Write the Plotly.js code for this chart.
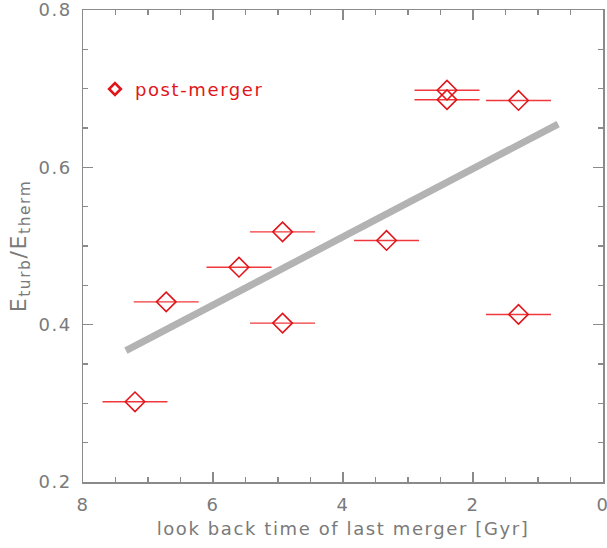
<!DOCTYPE html>
<html>
<head>
<meta charset="utf-8">
<script src="https://cdn.plot.ly/plotly-3.0.1.min.js"></script>
<style>
  html, body { margin: 0; padding: 0; background: #ffffff; }
  #chart { width: 607px; height: 548px; }
  svg text { letter-spacing: 1.6px; }
</style>
</head>
<body>
<div id="chart"></div>
<script>
// Data
const lookback = [7.2, 6.72, 5.6, 4.93, 4.93, 3.33, 2.4, 2.4, 1.3, 1.3];   // Gyr
const ratio    = [0.302, 0.429, 0.473, 0.518, 0.402, 0.507, 0.698, 0.686, 0.685, 0.413];
const lookbackErr = [0.5, 0.5, 0.5, 0.5, 0.5, 0.5, 0.5, 0.5, 0.5, 0.5];
const fitX = [7.34, 0.69];
const fitY = [0.367, 0.655];
const xTickVals = [8, 6, 4, 2, 0];
const yTickVals = [0.2, 0.4, 0.6, 0.8];
const seriesName = 'post-merger';

const axisGrey = '#8a8a8a';
const textGrey = '#7a7a7a';
const red = '#e0161b';
const FONT = 'DejaVu Sans, sans-serif';

const traces = [
  {
    x: fitX, y: fitY,
    type: 'scatter', mode: 'lines',
    line: { color: '#b3b3b3', width: 7 },
    showlegend: false, hoverinfo: 'skip'
  },
  {
    x: lookback, y: ratio,
    type: 'scatter', mode: 'markers',
    marker: { symbol: 'diamond-open', size: 15, color: red, line: { color: red, width: 1.6 } },
    error_x: { type: 'data', array: lookbackErr, visible: true, color: '#f0383c', thickness: 1.4, width: 0 },
    showlegend: false
  },
  {
    x: [null], y: [null],
    type: 'scatter', mode: 'markers',
    name: seriesName,
    marker: { symbol: 'diamond-open', size: 9, color: red, line: { color: red, width: 2.6 } },
    showlegend: true
  }
];

const axisCommon = {
  showgrid: false, zeroline: false,
  showline: true, linecolor: axisGrey, linewidth: 1.5,
  mirror: 'ticks',
  ticks: 'inside', ticklen: 10, tickwidth: 1.2, tickcolor: axisGrey,
  ticklabeloverflow: 'allow',
  tickfont: { family: FONT, size: 18, color: textGrey }
};

const layout = {
  width: 607, height: 548,
  margin: { l: 83, r: 4, t: 10, b: 66 },
  paper_bgcolor: '#ffffff', plot_bgcolor: '#ffffff',
  font: { family: FONT, color: textGrey },
  showlegend: true,
  legend: {
    x: 0.023, y: 0.832, xanchor: 'left', yanchor: 'middle',
    bgcolor: 'rgba(0,0,0,0)', borderwidth: 0,
    font: { family: FONT, size: 18, color: red },
    itemsizing: 'trace'
  },
  xaxis: Object.assign({}, axisCommon, {
    range: [8, 0],
    tickvals: xTickVals,
    ticktext: xTickVals.map(String),
    minor: { ticks: 'inside', ticklen: 5, tickwidth: 1.2, tickcolor: axisGrey, dtick: 0.5, showgrid: false },
    ticklabelstandoff: 6,
    title: { text: 'look back time of last merger [Gyr]', font: { family: FONT, size: 18, color: textGrey }, standoff: 8 }
  }),
  yaxis: Object.assign({}, axisCommon, {
    range: [0.2, 0.8],
    tickvals: yTickVals,
    ticktext: yTickVals.map(v => v.toFixed(1)),
    minor: { ticks: 'inside', ticklen: 5, tickwidth: 1.2, tickcolor: axisGrey, dtick: 0.05, showgrid: false },
    ticklabelstandoff: 6,
    title: { text: 'E<sub>turb</sub>/E<sub>therm</sub>', font: { family: FONT, size: 22, color: textGrey }, standoff: 6 }
  })
};

Plotly.newPlot('chart', traces, layout, { displayModeBar: false, staticPlot: true });
</script>
</body>
</html>
